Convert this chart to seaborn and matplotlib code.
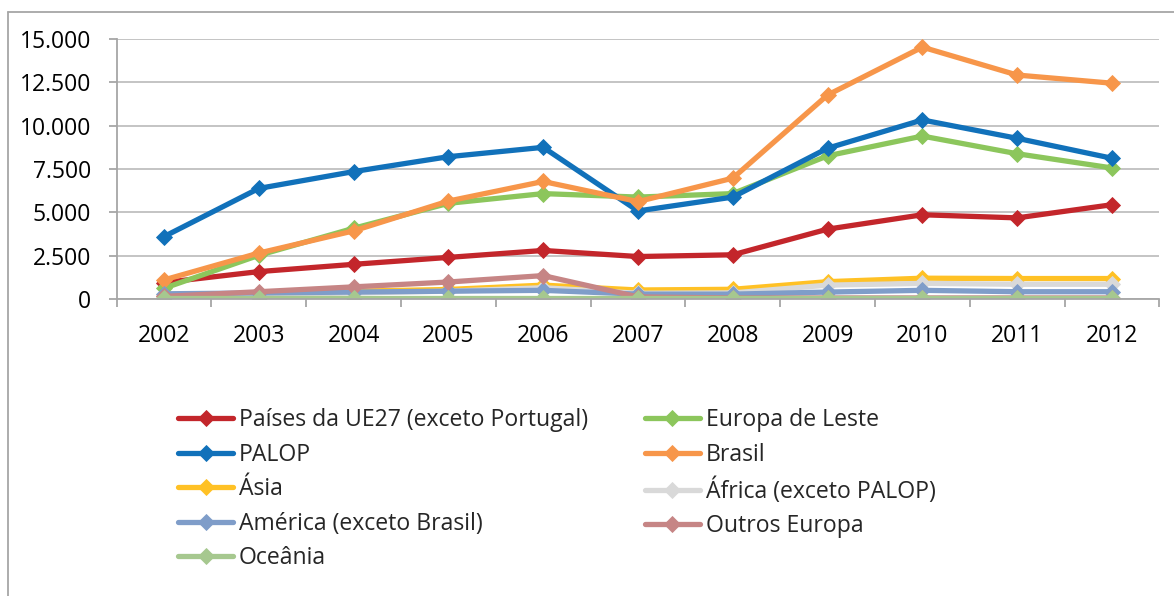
import matplotlib
matplotlib.use("Agg")
import matplotlib.pyplot as plt
import matplotlib.ticker as mticker
from matplotlib.lines import Line2D
import seaborn as sns
import pandas as pd

years = [2002, 2003, 2004, 2005, 2006, 2007, 2008, 2009, 2010, 2011, 2012]

ue27 = [950, 1580, 2000, 2400, 2800, 2450, 2550, 4030, 4860, 4680, 5440]
europa_leste = [620, 2520, 4080, 5520, 6080, 5880, 6080, 8260, 9400, 8380, 7560]
palop = [3600, 6380, 7350, 8210, 8750, 5080, 5880, 8700, 10330, 9270, 8120]
brasil = [1100, 2650, 3930, 5650, 6780, 5620, 6970, 11770, 14530, 12920, 12450]
asia = [150, 300, 450, 550, 800, 520, 560, 1000, 1200, 1180, 1180]
africa = [100, 250, 350, 450, 650, 330, 350, 800, 900, 850, 850]
america = [300, 350, 400, 450, 500, 280, 280, 400, 500, 420, 420]
outros_europa = [150, 420, 700, 980, 1350, 120, 60, 60, 60, 60, 60]
oceania = [30, 30, 30, 30, 30, 30, 30, 30, 30, 30, 30]

series_names = [
    "Países da UE27 (exceto Portugal)", "Europa de Leste", "PALOP", "Brasil",
    "Ásia", "África (exceto PALOP)", "América (exceto Brasil)",
    "Outros Europa", "Oceânia",
]
series_values = [ue27, europa_leste, palop, brasil, asia, africa, america,
                 outros_europa, oceania]
colors = ["#C3262B", "#8CC65C", "#1171BA", "#F7964A", "#FFC125",
          "#D9D9D9", "#7F9DC9", "#C68585", "#A6C88F"]

y_ticks = [0, 2500, 5000, 7500, 10000, 12500, 15000]

sns.set_theme(style="white")
plt.rcParams["font.family"] = ["Open Sans", "DejaVu Sans"]

fig = plt.figure(figsize=(11.74, 5.96), dpi=100)
ax = fig.add_axes([116.6 / 1174, 1 - 299 / 596, (1159.4 - 116.6) / 1174, (299 - 39) / 596])

handles = []
for name, vals, col in zip(series_names, series_values, colors):
    df = pd.DataFrame({"ano": years, "valor": vals})
    sns.lineplot(data=df, x="ano", y="valor", ax=ax, color=col, linewidth=3.8,
                 marker="D", markersize=8.5, markeredgewidth=0.6,
                 markeredgecolor=col, legend=False)
    handles.append(Line2D([0], [0], color=col, linewidth=3.8, marker="D",
                          markersize=8.5, markeredgewidth=0.6, markeredgecolor=col))

ax.set_xlim(2001.5, 2012.5)
ax.set_ylim(0, 15000)
ax.set_xlabel("")
ax.set_ylabel("")

ax.set_yticks(y_ticks)
ax.yaxis.set_major_formatter(mticker.FuncFormatter(lambda v, p: f"{v:,.0f}".replace(",", ".")))
ax.set_xticks(years)
ax.set_xticklabels([str(y) for y in years])
ax.set_xticks([y - 0.5 for y in years] + [years[-1] + 0.5], minor=True)

ax.grid(axis="y", color="#BFBFBF", linewidth=1.3)
ax.grid(axis="x", visible=False)
ax.set_axisbelow(True)

for s in ["top", "right"]:
    ax.spines[s].set_visible(False)
for s in ["left", "bottom"]:
    ax.spines[s].set_visible(True)
    ax.spines[s].set_color("#A6A6A6")
    ax.spines[s].set_linewidth(1.3)

ax.tick_params(axis="y", which="major", left=True, length=6, width=1.3,
               color="#A6A6A6", pad=12.5, labelsize=16.5, labelcolor="black")
ax.tick_params(axis="x", which="major", bottom=False, length=0, pad=18,
               labelsize=16.5, labelcolor="black")
ax.tick_params(axis="x", which="minor", bottom=True, length=6, width=1.3,
               color="#A6A6A6")

# legend: row-major order in the picture -> reorder for column-major filling
order = [0, 2, 4, 6, 8, 1, 3, 5, 7]
leg = fig.legend([handles[i] for i in order], [series_names[i] for i in order],
                 ncol=2, loc="upper left", bbox_to_anchor=(178 / 1174, 1 - 408 / 596),
                 frameon=False, fontsize=16.6, handlelength=2.4, handletextpad=0.25,
                 labelspacing=0.46, columnspacing=2.45, borderpad=0, borderaxespad=0)

# outer chart frame
fig.add_artist(Line2D([8 / 1174, 1.0], [1 - 12 / 596, 1 - 12 / 596],
                      transform=fig.transFigure, color="#A6A6A6", linewidth=1.3))
fig.add_artist(Line2D([8 / 1174, 8 / 1174], [0, 1 - 12 / 596],
                      transform=fig.transFigure, color="#A6A6A6", linewidth=1.3))

fig.savefig("out.png", dpi=100)
